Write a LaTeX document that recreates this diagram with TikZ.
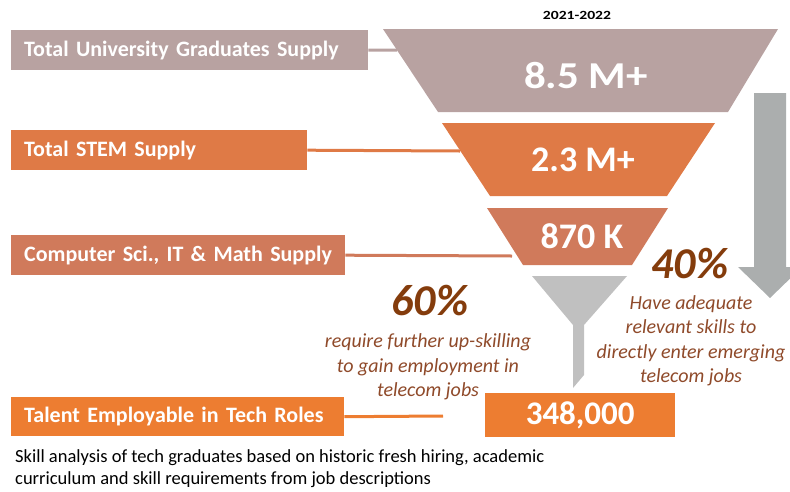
\documentclass[tikz,border=0pt]{standalone}
\usepackage{fontspec}
\setmainfont{Carlito}
\definecolor{cgrad}{HTML}{B8A2A1}
\definecolor{cstem}{HTML}{DF7A46}
\definecolor{ccomp}{HTML}{D07A5B}
\definecolor{ctal}{HTML}{ED7D31}
\definecolor{cfun}{HTML}{C0C0C0}
\definecolor{carr}{HTML}{ABAEAE}
\definecolor{cpct}{HTML}{843C0C}
\definecolor{cital}{HTML}{8F4A2A}
\begin{document}
\begin{tikzpicture}[x=1pt,y=-1pt,
  labelbox/.style={anchor=north west,inner xsep=13pt,inner ysep=0pt,minimum height=40pt,text width=#1,align=left,text=white,font=\fontsize{22}{24}\selectfont\bfseries},
  conn/.style={line width=3pt},
  bignum/.style={text=white,font=\fontsize{#1}{#1}\selectfont\bfseries},
  pct/.style={text=cpct,font=\fontsize{44}{44}\selectfont\bfseries\itshape},
  note/.style={text=cital,align=center,font=\fontsize{20}{24.5}\selectfont\itshape}]
\useasboundingbox (0,0) rectangle (790,491);
\begin{scope}
\clip (0,0) rectangle (790,491);
% grey arrow
\fill[carr] (754,93) -- (786,93) -- (786,267) -- (802,267) -- (770,298) -- (738,267) -- (754,267) -- cycle;
\end{scope}
% funnel trapezoids
\fill[cgrad] (383,29) -- (778,29) -- (728,112) -- (438,112) -- cycle;
\fill[cstem] (442,123) -- (715,123) -- (667,196) -- (490,196) -- cycle;
\fill[ccomp] (487,208) -- (668,208) -- (632,265) -- (523,265) -- cycle;
\fill[cfun] (532,276) -- (627,276) -- (584,325) -- (584,375) -- (573,388) -- (573,325) -- cycle;
\coordinate (t1) at (397,50);
\coordinate (t2) at (460,151);
\coordinate (t3) at (512,256);
\coordinate (t4) at (443,416);
% numbers
\node[bignum=38] (n1) at (586,76) {\scalebox{1.13}[1]{8.5 M+}};
\node[bignum=36] (n2) at (583,160) {2.3 M+};
\node[bignum=36] (n3) at (582,236) {870 K};
\node[anchor=north west,fill=ctal,minimum width=190pt,minimum height=44pt,inner sep=0pt] (out) at (485,393) {};
\node[bignum=33] (n4) at (out.center) {348,000};
\node[font=\fontsize{12.5}{14}\selectfont\bfseries] (yr) at (577,15) {\scalebox{1.25}[1]{2021-2022}};
% label boxes
\node[labelbox=331pt,fill=cgrad] (l1) at (11,30) {Total University Graduates Supply};
\node[labelbox=270pt,fill=cstem] (l2) at (11,130) {Total STEM Supply};
\node[labelbox=308pt,fill=ccomp] (l3) at (11,235) {Computer Sci., IT \& Math Supply};
\node[labelbox=307pt,fill=ctal,minimum height=39pt] (l4) at (11,397) {Talent Employable in Tech Roles};
\draw[conn,cgrad] (l1.east) -- (t1);
\draw[conn,cstem] (l2.east) -- (t2);
\draw[conn,ccomp] (l3.east) -- (t3);
\draw[conn,ctal] (l4.east) -- (t4);
% percentages
\node[pct] (p60) at (430,301) {60\%};
\node[note] (t60) at (428,367) {require further up-skilling\\to gain employment in\\telecom jobs};
\node[pct] (p40) at (690,264) {40\%};
\node[note] (t40) at (691,341) {Have adequate\\relevant skills to\\directly enter emerging\\telecom jobs};
% footnote
\node[anchor=north west,align=left,inner sep=0pt,font=\fontsize{18.5}{22}\selectfont] (foot) at (15,449) {Skill analysis of tech graduates based on historic fresh hiring, academic\\curriculum and skill requirements from job descriptions};
\end{tikzpicture}
\end{document}
